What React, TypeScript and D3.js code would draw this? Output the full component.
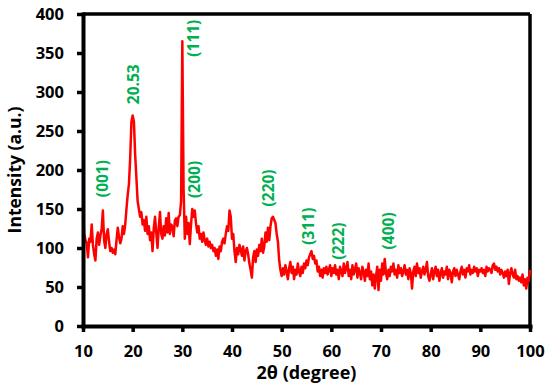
import React, { useEffect, useRef } from "react";
import * as d3 from "d3";

// XRD intensity, 0.25 deg steps, one array per 10 degrees
const step = 0.25;
const from10 = [140, 118, 110, 106, 88, 112, 108, 130, 104, 92, 84, 112, 120, 104, 116, 124, 148, 110, 100, 118, 124, 108, 96, 100, 94, 98, 92, 110, 126, 114, 106, 112, 128, 118, 130, 150, 168, 182, 215, 262];
const from20 = [270, 262, 220, 190, 160, 150, 140, 146, 130, 136, 122, 140, 118, 128, 110, 120, 96, 125, 140, 120, 100, 126, 146, 118, 112, 128, 116, 138, 120, 145, 118, 130, 128, 115, 135, 138, 128, 140, 142, 160];
const from30 = [365, 175, 112, 140, 118, 132, 105, 130, 150, 140, 148, 132, 120, 128, 112, 118, 108, 120, 110, 104, 112, 102, 108, 100, 104, 96, 100, 90, 98, 86, 102, 96, 108, 112, 106, 118, 128, 122, 148, 140];
const from40 = [112, 118, 96, 82, 100, 92, 104, 98, 90, 102, 84, 96, 100, 92, 80, 72, 62, 88, 96, 82, 98, 90, 104, 96, 112, 94, 102, 120, 108, 126, 110, 128, 138, 140, 136, 132, 118, 108, 84, 72];
const from50 = [64, 74, 66, 78, 70, 60, 74, 82, 68, 76, 60, 72, 66, 80, 70, 64, 76, 68, 80, 74, 84, 78, 88, 92, 96, 86, 90, 80, 84, 70, 76, 64, 72, 62, 74, 68, 76, 66, 72, 78];
const from60 = [64, 74, 68, 78, 66, 72, 60, 76, 70, 64, 80, 68, 74, 82, 64, 72, 60, 78, 66, 72, 80, 62, 74, 68, 60, 76, 70, 58, 72, 64, 80, 60, 70, 52, 66, 48, 64, 76, 46, 72];
const from70 = [58, 80, 66, 86, 68, 60, 72, 64, 76, 70, 80, 66, 72, 62, 78, 68, 74, 64, 70, 78, 66, 72, 60, 74, 68, 48, 70, 76, 64, 80, 68, 74, 62, 70, 76, 66, 72, 82, 64, 58];
const from80 = [66, 74, 60, 70, 76, 64, 72, 58, 68, 74, 62, 70, 66, 76, 60, 72, 68, 56, 70, 74, 64, 72, 66, 60, 70, 76, 66, 72, 62, 74, 70, 78, 66, 72, 68, 76, 70, 74, 64, 72];
const from90 = [70, 74, 68, 72, 64, 76, 70, 74, 72, 68, 78, 80, 72, 76, 70, 74, 66, 72, 68, 62, 70, 64, 72, 54, 68, 74, 66, 62, 72, 60, 64, 58, 62, 56, 66, 52, 60, 48, 62, 58];
const at100 = [72];

const segments = [from10, from20, from30, from40, from50, from60, from70, from80, from90, at100];
const segmentStarts = [10, 20, 30, 40, 50, 60, 70, 80, 90, 100];

// peak labels
const peakLabels = ["(001)", "20.53", "(111)", "(200)", "(220)", "(311)", "(222)", "(400)"];
const peakTheta = [13.83, 20.07, 32.2, 32.4, 47.3, 55.3, 61.35, 71.4];
const peakLabelY = [189, 310, 369, 188, 177, 128, 109, 122];

const xTicks = [10, 20, 30, 40, 50, 60, 70, 80, 90, 100];
const yTicks = [0, 50, 100, 150, 200, 250, 300, 350, 400];

const App = () => {
  const ref = useRef<SVGSVGElement>(null);

  useEffect(() => {
    const points: [number, number][] = [];
    segments.forEach((seg, s) => {
      seg.forEach((v, i) => points.push([segmentStarts[s] + i * step, v]));
    });

    const margin = { top: 14, right: 20, bottom: 65, left: 83 };
    const width = 550 - margin.left - margin.right;
    const height = 391 - margin.top - margin.bottom;
    const font = "'Open Sans', sans-serif";

    const root = d3.select(ref.current);
    root.selectAll("*").remove();
    const svg = root.append("g").attr("transform", `translate(${margin.left},${margin.top})`);

    const x = d3.scaleLinear().domain([10, 100]).range([0, width]);
    const y = d3.scaleLinear().domain([0, 400]).range([height, 0]);

    // frame top / right
    svg.append("line").attr("x1", 0).attr("x2", width).attr("y1", 0).attr("y2", 0)
      .attr("stroke", "#000").attr("stroke-width", 3.5);
    svg.append("line").attr("x1", width).attr("x2", width).attr("y1", 0).attr("y2", height)
      .attr("stroke", "#000").attr("stroke-width", 3.5);

    // the pattern
    const line = d3.line<[number, number]>().x((d) => x(d[0])).y((d) => y(d[1]));
    svg.append("path").datum(points).attr("d", line).attr("fill", "none")
      .attr("stroke", "#ff0000").attr("stroke-width", 2.5).attr("stroke-linejoin", "round");

    // X Axis
    const gx = svg.append("g").attr("transform", `translate(0,${height})`)
      .call(d3.axisBottom(x).tickValues(xTicks).tickSize(6).tickSizeOuter(0).tickPadding(13));
    // Y Axis
    const gy = svg.append("g")
      .call(d3.axisLeft(y).tickValues(yTicks).tickSize(6).tickSizeOuter(0).tickPadding(13));

    [gx, gy].forEach((g) => {
      g.select(".domain").attr("stroke-width", 4).attr("stroke-linecap", "square");
      g.selectAll(".tick line").attr("stroke-width", 3.5);
      g.selectAll(".tick text").attr("font-family", font).attr("font-size", 16.5)
        .attr("font-weight", 700).attr("fill", "#000");
    });

    // axis titles
    svg.append("text").attr("x", width / 2).attr("y", height + 53).attr("text-anchor", "middle")
      .attr("font-family", font).attr("font-size", 18).attr("font-weight", 700).text("2θ (degree)");
    svg.append("text").attr("transform", "rotate(-90)").attr("x", -156).attr("y", -margin.left + 21)
      .attr("text-anchor", "middle").attr("font-family", font).attr("font-size", 17.5)
      .attr("font-weight", 700).text("Intensity (a.u.)");

    // peak labels
    peakLabels.forEach((t, i) => {
      const px = x(peakTheta[i]);
      const py = y(peakLabelY[i]);
      svg.append("text").attr("transform", `translate(${px},${py}) rotate(-90)`)
        .attr("text-anchor", "middle").attr("dominant-baseline", "central")
        .attr("font-family", font).attr("font-size", 15.5).attr("font-weight", 700)
        .attr("fill", "#00b050").text(t);
    });
  }, []);

  return (
    <svg ref={ref} width={550} height={391}
      style={{ position: "absolute", left: 0, top: 0, background: "#fff" }} />
  );
};

export default App;
